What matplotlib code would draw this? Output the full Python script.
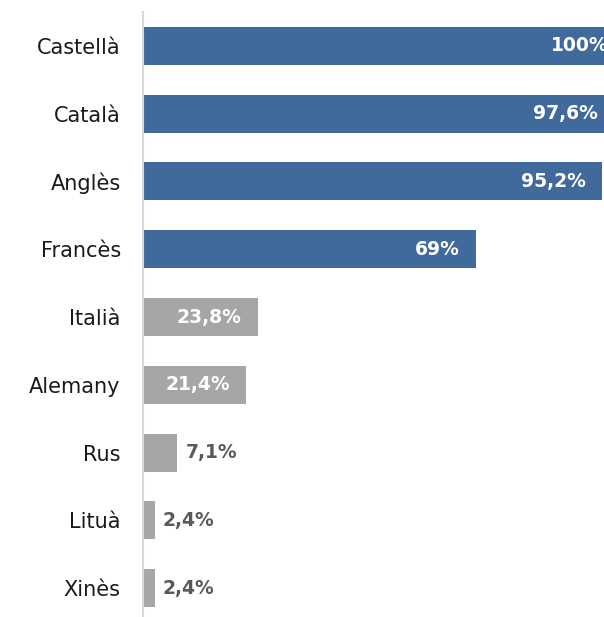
import matplotlib.pyplot as plt

# Data
languages = ["Castellà", "Català", "Anglès", "Francès", "Italià", "Alemany", "Rus", "Lituà", "Xinès"]
values = [100, 97.6, 95.2, 69, 23.8, 21.4, 7.1, 2.4, 2.4]
labels = ["100%", "97,6%", "95,2%", "69%", "23,8%", "21,4%", "7,1%", "2,4%", "2,4%"]

blue = "#416a9c"
grey = "#a6a6a6"
colors = [blue] * 4 + [grey] * 5

plt.rcParams['font.family'] = ['DejaVu Sans']

W, H = 604, 617
fig = plt.figure(figsize=(W / 100, H / 100), dpi=100)
# axes reach past the right edge, as in the cropped original
ax = fig.add_axes([143 / W, (H - 622) / H, 482 / W, 610 / H])

y = list(range(len(languages)))
ax.barh(y, values, height=0.56, color=colors)
ax.set_xlim(0, 100)
ax.set_ylim(8.5, -0.5)

ax.set_yticks(y)
ax.set_yticklabels(languages, fontsize=15, color="#1a1a1a")
ax.tick_params(axis='y', length=0, pad=16)
ax.set_xticks([])

for s in ["top", "right", "bottom"]:
    ax.spines[s].set_visible(False)
ax.spines["left"].set_color("#d9d9d9")
ax.spines["left"].set_linewidth(1.5)

# Value labels
for i, (v, txt) in enumerate(zip(values, labels)):
    if v > 15:
        ax.annotate(txt, (v, i), textcoords="offset points", xytext=(-11.5, 0),
                    ha='right', va='center', color='white', fontsize=13.5, fontweight='bold')
    else:
        ax.annotate(txt, (v, i), textcoords="offset points", xytext=(6, 0),
                    ha='left', va='center', color='#595959', fontsize=13.5, fontweight='bold')

fig.savefig("out.png", dpi=100)
